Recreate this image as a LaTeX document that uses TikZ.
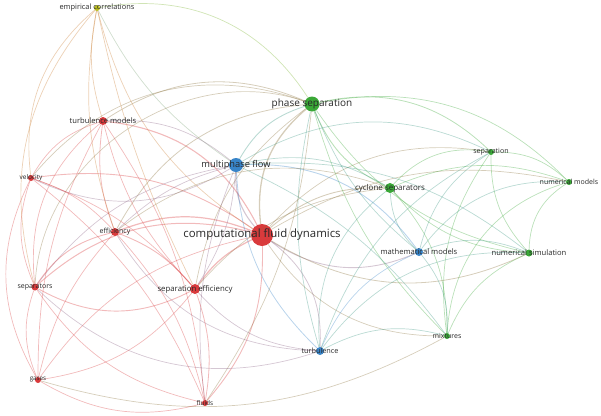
\documentclass[tikz,border=0pt]{standalone}
\usepackage{fontspec}
\setmainfont{Open Sans}
\definecolor{vred}{RGB}{217,58,60}
\definecolor{vgreen}{RGB}{58,168,55}
\definecolor{vblue}{RGB}{56,132,200}
\definecolor{vyel}{RGB}{185,188,30}
\definecolor{lbl}{RGB}{40,40,40}
\colorlet{ccfd}{vred}\colorlet{ctm}{vred}\colorlet{cvel}{vred}\colorlet{ceff}{vred}
\colorlet{csep}{vred}\colorlet{cgas}{vred}\colorlet{cflu}{vred}\colorlet{cseff}{vred}
\colorlet{cemp}{vyel}
\colorlet{cmpf}{vblue}\colorlet{cmm}{vblue}\colorlet{cturb}{vblue}
\colorlet{cps}{vgreen}\colorlet{csepn}{vgreen}\colorlet{cnm}{vgreen}\colorlet{ccs}{vgreen}
\colorlet{cns}{vgreen}\colorlet{cmix}{vgreen}
\tikzset{
  kwnode/.style={circle,inner sep=0pt,draw=none},
  kwlabel/.style={text=lbl,inner sep=0pt,font=\fontsize{#1}{#1}\selectfont},
  edge/.style={line width=0.7pt,draw opacity=0.35}
}
\newcommand\lk[4][0.7]{\pgfmathsetmacro\bnd{1.4*#4}\draw[edge,line width=#1pt,draw=c#2!50!c#3] (#2) to[bend left=\bnd] (#3);}
\begin{document}
\begin{tikzpicture}[x=1pt,y=-1pt]
\useasboundingbox (0,0) rectangle (601,415);
% nodes (circles)
\node[kwnode,fill=ccfd,minimum size=22pt] (cfd) at (262,235) {};
\node[kwnode,fill=cps,minimum size=15pt] (ps) at (312,104) {};
\node[kwnode,fill=cmpf,minimum size=14pt] (mpf) at (236,165) {};
\node[kwnode,fill=ccs,minimum size=10pt] (cs) at (390,188) {};
\node[kwnode,fill=cseff,minimum size=10pt] (seff) at (195,289) {};
\node[kwnode,fill=ceff,minimum size=8pt] (eff) at (115,232) {};
\node[kwnode,fill=ctm,minimum size=8pt] (tm) at (103,121) {};
\node[kwnode,fill=cmm,minimum size=8pt] (mm) at (419,252) {};
\node[kwnode,fill=cturb,minimum size=8pt] (turb) at (320,351) {};
\node[kwnode,fill=cns,minimum size=7pt] (ns) at (529,253) {};
\node[kwnode,fill=csep,minimum size=7pt] (sep) at (35,287) {};
\node[kwnode,fill=cvel,minimum size=6pt] (vel) at (31,178) {};
\node[kwnode,fill=cgas,minimum size=6pt] (gas) at (38,380) {};
\node[kwnode,fill=cflu,minimum size=6pt] (flu) at (205,403) {};
\node[kwnode,fill=csepn,minimum size=6pt] (sepn) at (491,152) {};
\node[kwnode,fill=cnm,minimum size=6pt] (nm) at (569,182) {};
\node[kwnode,fill=cmix,minimum size=6pt] (mix) at (447,336) {};
\node[kwnode,fill=cemp,minimum size=6pt] (emp) at (97,8) {};
% edges: computational fluid dynamics
\lk{cfd}{emp}{15}
\lk[1.1]{tm}{cfd}{20}
\lk[0.9]{vel}{cfd}{15}
\lk[1.2]{eff}{cfd}{15}
\lk[1.0]{sep}{cfd}{20}
\lk{gas}{cfd}{15}
\lk[0.9]{flu}{cfd}{-15}
\lk[1.2]{seff}{cfd}{10}
\lk[1.1]{mpf}{cfd}{-15}
\lk[1.3]{cfd}{ps}{20}
\lk{cfd}{sepn}{20}
\lk{cfd}{nm}{15}
\lk[0.9]{cfd}{cs}{15}
\lk[0.9]{cfd}{mm}{-20}
\lk[0.8]{cfd}{ns}{-20}
\lk{cfd}{mix}{-20}
\lk[0.8]{cfd}{turb}{20}
% phase separation
\lk{emp}{ps}{24}
\lk[0.8]{tm}{ps}{20}
\lk{sep}{ps}{38}
\lk{vel}{ps}{25}
\lk[0.8]{eff}{ps}{20}
\lk{seff}{ps}{15}
\lk[0.9]{mpf}{ps}{15}
\lk[0.8]{ps}{sepn}{20}
\lk{ps}{nm}{20}
\lk[0.9]{ps}{cs}{-15}
\lk{ps}{mm}{-10}
\lk{ps}{ns}{-15}
\lk{ps}{mix}{-10}
\lk{ps}{turb}{-10}
\lk{ps}{flu}{10}
% multiphase flow
\lk{emp}{mpf}{-10}
\lk{tm}{mpf}{15}
\lk{vel}{mpf}{-20}
\lk{eff}{mpf}{10}
\lk{sep}{mpf}{15}
\lk{seff}{mpf}{-10}
\lk{mpf}{cs}{15}
\lk[0.9]{mpf}{mm}{20}
\lk{mpf}{ns}{15}
\lk[0.8]{mpf}{turb}{-15}
\lk{mpf}{sepn}{20}
\lk{mpf}{mix}{10}
\lk{mpf}{flu}{-10}
% cyclone separators
\lk{cs}{sepn}{20}
\lk{cs}{nm}{15}
\lk{cs}{ns}{-15}
\lk{cs}{mm}{-15}
\lk{cs}{mix}{15}
\lk{cs}{turb}{-20}
\lk{seff}{cs}{15}
\lk{eff}{cs}{20}
% green / blue cluster
\lk{sepn}{nm}{15}
\lk{sepn}{ns}{-15}
\lk{sepn}{mix}{-15}
\lk{sepn}{mm}{-15}
\lk{sepn}{turb}{-15}
\lk{nm}{ns}{-20}
\lk{nm}{mix}{-25}
\lk{nm}{mm}{-20}
\lk{ns}{mix}{-15}
\lk{mm}{ns}{15}
\lk{turb}{ns}{20}
\lk{turb}{mm}{15}
\lk{mm}{mix}{15}
\lk{turb}{mix}{15}
\lk{seff}{turb}{-15}
\lk{eff}{turb}{-20}
\lk{sep}{turb}{-22}
\lk{gas}{mix}{-16}
% red cluster
\lk{tm}{vel}{-15}
\lk[0.8]{tm}{eff}{-10}
\lk{tm}{sep}{-20}
\lk{tm}{seff}{-10}
\lk{tm}{gas}{-10}
\lk{tm}{flu}{10}
\lk{emp}{tm}{-10}
\lk{vel}{eff}{10}
\lk{vel}{sep}{-15}
\lk{vel}{seff}{10}
\lk{vel}{gas}{-20}
\lk{vel}{flu}{10}
\lk[0.9]{eff}{sep}{-15}
\lk[0.9]{eff}{seff}{10}
\lk{eff}{gas}{-10}
\lk{eff}{flu}{10}
\lk{emp}{eff}{-10}
\lk[0.9]{sep}{seff}{-20}
\lk{sep}{gas}{-15}
\lk{sep}{flu}{-15}
\lk{gas}{seff}{-15}
\lk{gas}{flu}{-16}
\lk[0.8]{flu}{seff}{-10}
\lk{emp}{vel}{-20}
\lk{emp}{sep}{-20}
\lk{emp}{seff}{-5}
% labels
\node[kwlabel=11.4] (lcfd) at (cfd) {computational fluid dynamics};
\node[kwlabel=10] (lps) at (ps) {phase separation};
\node[kwlabel=9.3] (lmpf) at (mpf) {multiphase flow};
\node[kwlabel=8] (lcs) at (cs) {cyclone separators};
\node[kwlabel=7.8] (lseff) at (seff) {separation efficiency};
\node[kwlabel=7] (leff) at (eff) {efficiency};
\node[kwlabel=7.6] (ltm) at (tm) {turbulence models};
\node[kwlabel=7.6] (lmm) at (mm) {mathematical models};
\node[kwlabel=7.3] (lturb) at (turb) {turbulence};
\node[kwlabel=7.6] (lns) at (ns) {numerical simulation};
\node[kwlabel=7] (lsep) at (sep) {separators};
\node[kwlabel=6.5] (lvel) at (vel) {velocity};
\node[kwlabel=6.3] (lgas) at (gas) {gases};
\node[kwlabel=6.5] (lflu) at (flu) {fluids};
\node[kwlabel=7.1] (lsepn) at (sepn) {separation};
\node[kwlabel=7] (lnm) at (nm) {numerical models};
\node[kwlabel=7] (lmix) at (mix) {mixtures};
\node[kwlabel=7.4] (lemp) at (emp) {empirical correlations};
\end{tikzpicture}
\end{document}
